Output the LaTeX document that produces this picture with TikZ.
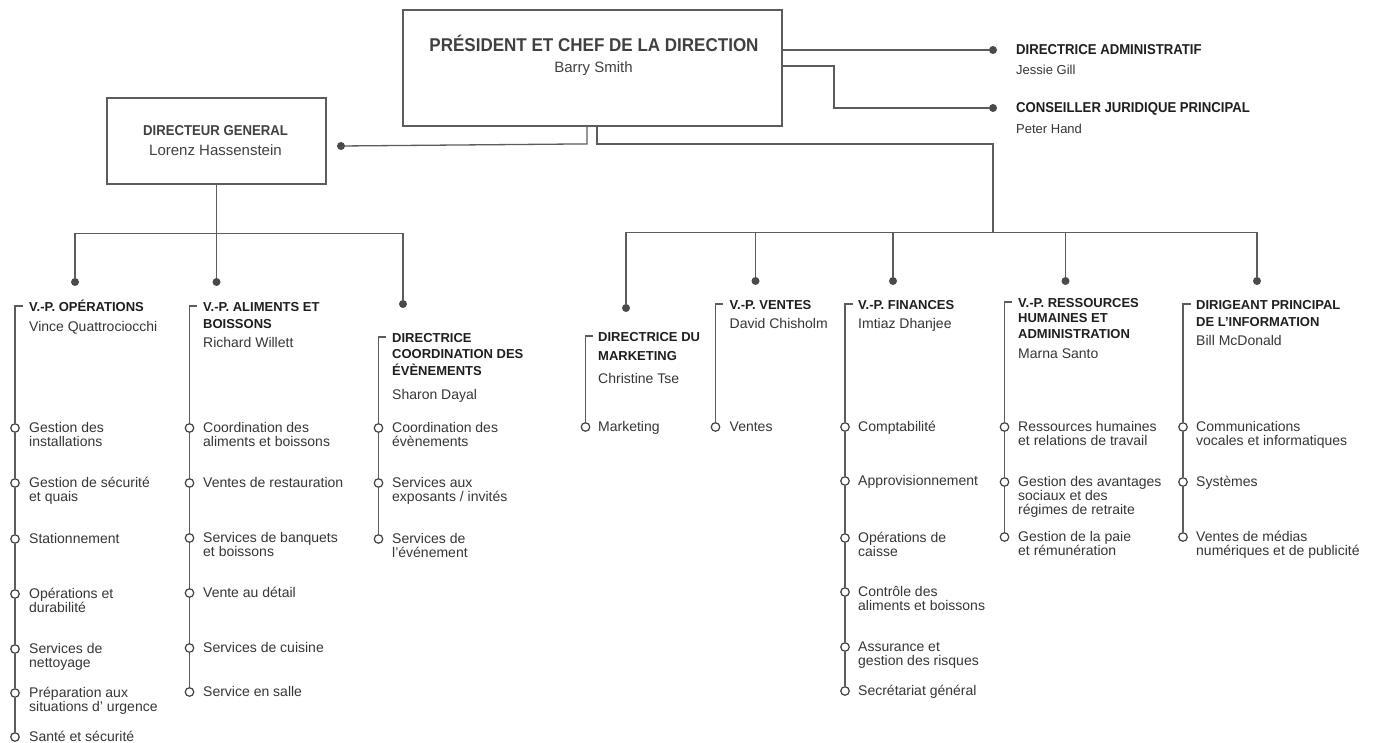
\documentclass[tikz,border=0pt]{standalone}
\usepackage{fontspec}
\setmainfont{Liberation Sans}
\newfontfamily\condfont[FakeStretch=0.92]{Liberation Sans}
\definecolor{ink}{HTML}{1E1E1E}
\definecolor{wire}{HTML}{5C5C5C}
\newcommand{\lead}{\rule{0pt}{14pt}}
\begin{document}
\begin{tikzpicture}[x=1pt,y=-1pt,
	wire/.style={draw=wire,line width=1.3pt},
	box/.style={draw=wire,line width=1.8pt,inner sep=0pt},
	dot/.style={circle,fill=wire!80!black,inner sep=0pt,minimum size=8pt},
	ring/.style={circle,draw=ink!85,fill=white,line width=1.2pt,inner sep=0pt,minimum size=8.5pt},
	ttl/.style={anchor=base,inner sep=0pt,text=ink!85,font=\condfont\bfseries\fontsize{18.5}{20}\selectfont},
	sub/.style={anchor=base,inner sep=0pt,text=ink!85,font=\fontsize{15}{16}\selectfont},
	side/.style={anchor=base west,inner sep=0pt,text=ink,font=\condfont\bfseries\fontsize{14.3}{16}\selectfont},
	sidenm/.style={anchor=base west,inner sep=0pt,text=ink!90,font=\fontsize{13}{14}\selectfont},
	hd/.style={anchor=north west,align=left,inner sep=0pt,text=ink,font=\bfseries\fontsize{13}{16.5}\selectfont},
	nm/.style={anchor=base west,inner sep=0pt,text=ink!90,font=\fontsize{14}{14}\selectfont},
	it/.style={anchor=north west,align=left,inner sep=0pt,text=ink!90,font=\fontsize{14}{14}\selectfont}]
	\useasboundingbox (0,0) rectangle (1384,743);
	% items hang 14pt above their first baseline
	\newcommand{\items}[4]{\foreach \y/\t [count=\i,remember=\i as \p (initially 0)] in {#4} {
		\node[ring] (#1\i) at (#2,\y) {};
		\node[it] (#1t\i) at (#3,\y-9.5) {\lead\t};
		\ifnum\i>1 \draw[wire] (#1\p) -- (#1\i);\fi}}
	% top of the chart
	\node[box,minimum width=379pt,minimum height=116pt] (pres) at (592.5,68) {};
	\node[ttl] (presTtl) at (594,51.5) {PRÉSIDENT ET CHEF DE LA DIRECTION};
	\node[sub] (presNm) at (593.5,73) {Barry Smith};
	\node[box,minimum width=219pt,minimum height=86pt] (dg) at (216.5,141) {};
	\node[ttl,font=\condfont\bfseries\fontsize{14.3}{16}\selectfont] (dgTtl) at (215.5,136) {DIRECTEUR GENERAL};
	\node[sub] (dgNm) at (215.5,156) {Lorenz Hassenstein};
	\node[dot] (dgDot) at (341,146) {};
	\node[dot] (adDot) at (993,50) {};
	\node[side] (adTtl) at (1016,55) {DIRECTRICE ADMINISTRATIF};
	\node[sidenm] (adNm) at (1016,75) {Jessie Gill};
	\node[dot] (cjDot) at (993,108) {};
	\node[side] (cjTtl) at (1016,113) {CONSEILLER JURIDIQUE PRINCIPAL};
	\node[sidenm] (cjNm) at (1016,134) {Peter Hand};
	\draw[wire] (pres.east |- adDot) -- (adDot);
	\draw[wire] ([yshift=2pt]pres.east) -- ++(51,0) |- (cjDot);
	\draw[wire] ([xshift=-5.5pt]pres.south) -- ++(0,17) -- (dgDot);
	\coordinate (rbus) at (993,232.5);
	\draw[wire] ([xshift=4.5pt]pres.south) -- ++(0,17) -| (rbus);
	% left branch
	\node[dot] (opsDot) at (75,282) {};
	\node[dot] (aliDot) at (216.5,282) {};
	\node[dot] (evtDot) at (403,304) {};
	\coordinate (lbus) at (216.5,233.5);
	\draw[wire] (dg) -- (aliDot);
	\draw[wire] (opsDot) |- (lbus) -| (evtDot);
	% right branch
	\node[dot] (mkDot) at (626,308) {};
	\node[dot] (vtDot) at (755.5,281) {};
	\node[dot] (finDot) at (893,281) {};
	\node[dot] (rhDot) at (1065.5,281) {};
	\node[dot] (infDot) at (1257,281) {};
	\draw[wire] (mkDot) |- (rbus) -| (infDot);
	\foreach \d in {vtDot,finDot,rhDot} \draw[wire] (\d) -- (\d |- rbus);
	% V.-P. operations
	\node[hd] (opsHd) at (29,297.5) {\lead V.-P. OPÉRATIONS};
	\node[nm] (opsNm) at (29,331) {Vince Quattrociocchi};
	\coordinate (opsTop) at (15,306);
	\items{ops}{15}{29}{428/{Gestion des\\installations},483/{Gestion de sécurité\\et quais},539/Stationnement,594/{Opérations et\\durabilité},649/{Services de\\nettoyage},693/{Préparation aux\\situations d’ urgence},737/Santé et sécurité}
	\draw[wire] (opsTop) ++(7.5,0) -- (opsTop) -- (ops1);
	% V.-P. aliments et boissons
	\node[hd] (aliHd) at (203,297.5) {\lead V.-P. ALIMENTS ET\\BOISSONS};
	\node[nm] (aliNm) at (203,347) {Richard Willett};
	\coordinate (aliTop) at (189.5,306);
	\items{ali}{189.5}{203}{428/{Coordination des\\aliments et boissons},483/Ventes de restauration,538/{Services de banquets\\et boissons},593/Vente au détail,648/Services de cuisine,692/Service en salle}
	\draw[wire] (aliTop) ++(7.5,0) -- (aliTop) -- (ali1);
	% coordination des evenements
	\node[hd] (evtHd) at (392,328) {\lead DIRECTRICE\\COORDINATION DES\\ÉVÈNEMENTS};
	\node[nm] (evtNm) at (392,399.5) {Sharon Dayal};
	\coordinate (evtTop) at (378.5,337);
	\items{evt}{378.5}{392}{428/{Coordination des\\évènements},483/{Services aux\\exposants / invités},539/{Services de\\l'événement}}
	\draw[wire] (evtTop) ++(7.5,0) -- (evtTop) -- (evt1);
	% marketing
	\node[hd] (mkHd) at (598,327) {\lead DIRECTRICE DU\\[3pt]MARKETING};
	\node[nm] (mkNm) at (598,383) {Christine Tse};
	\coordinate (mkTop) at (585.5,336);
	\items{mk}{585.5}{598}{427/Marketing}
	\draw[wire] (mkTop) ++(7.5,0) -- (mkTop) -- (mk1);
	% ventes
	\node[hd] (vtHd) at (729.5,295) {\lead V.-P. VENTES};
	\node[nm] (vtNm) at (729.5,329) {David Chisholm};
	\coordinate (vtTop) at (715.5,304);
	\items{vt}{715.5}{729.5}{427/Ventes}
	\draw[wire] (vtTop) ++(7.5,0) -- (vtTop) -- (vt1);
	% finances
	\node[hd] (finHd) at (858,295) {\lead V.-P. FINANCES};
	\node[nm] (finNm) at (858,329) {Imtiaz Dhanjee};
	\coordinate (finTop) at (845,304);
	\items{fin}{845}{858}{427/Comptabilité,481/Approvisionnement,538/{Opérations de\\caisse},592/{Contrôle des\\aliments et boissons},647/{Assurance et\\gestion des risques},691/Secrétariat général}
	\draw[wire] (finTop) ++(7.5,0) -- (finTop) -- (fin1);
	% ressources humaines
	\node[hd,font=\bfseries\fontsize{13}{15.5}\selectfont] (rhHd) at (1018,293) {\lead V.-P. RESSOURCES\\HUMAINES ET\\ADMINISTRATION};
	\node[nm] (rhNm) at (1018,358) {Marna Santo};
	\coordinate (rhTop) at (1004.5,302);
	\items{rh}{1004.5}{1018}{427/{Ressources humaines\\et relations de travail},482/{Gestion des avantages\\sociaux et des\\régimes de retraite},537/{Gestion de la paie\\et rémunération}}
	\draw[wire] (rhTop) ++(7.5,0) -- (rhTop) -- (rh1);
	% information
	\node[hd,font=\bfseries\fontsize{13}{17.5}\selectfont] (infHd) at (1196,295) {\lead DIRIGEANT PRINCIPAL\\DE L'INFORMATION};
	\node[nm] (infNm) at (1196,345.5) {Bill McDonald};
	\coordinate (infTop) at (1183,304);
	\items{inf}{1183}{1196}{427/{Communications\\vocales et informatiques},482/Systèmes,537/{Ventes de médias\\numériques et de publicité}}
	\draw[wire] (infTop) ++(7.5,0) -- (infTop) -- (inf1);
\end{tikzpicture}
\end{document}
